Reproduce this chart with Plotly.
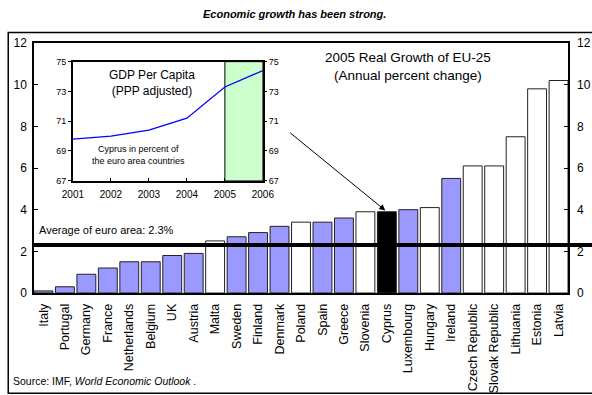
import plotly.graph_objects as go

# 2005 real GDP growth, EU-25 (annual percent change)
countries = ["Italy", "Portugal", "Germany", "France", "Netherlands", "Belgium", "UK",
             "Austria", "Malta", "Sweden", "Finland", "Denmark", "Poland", "Spain",
             "Greece", "Slovenia", "Cyprus", "Luxembourg", "Hungary", "Ireland",
             "Czech Republic", "Slovak Republic", "Lithuania", "Estonia", "Latvia"]
growth = [0.1, 0.3, 0.9, 1.2, 1.5, 1.5, 1.8, 1.9, 2.5, 2.7, 2.9, 3.2, 3.4, 3.4,
          3.6, 3.9, 3.9, 4.0, 4.1, 5.5, 6.1, 6.1, 7.5, 9.8, 10.2]
# "euro" = euro area / old members, "new" = 2004 accession states, "cyprus" highlighted
group = ["euro", "euro", "euro", "euro", "euro", "euro", "euro", "euro", "new", "euro",
         "euro", "euro", "new", "euro", "euro", "new", "cyprus", "euro", "new", "euro",
         "new", "new", "new", "new", "new"]
euro_avg = 2.3

# Cyprus GDP per capita (PPP) in percent of euro area
years = [2001, 2002, 2003, 2004, 2005, 2006]
gdp_pc = [69.8, 70.0, 70.4, 71.2, 73.3, 74.4]

W, H = 592, 395
L, R, T, B = 34, 573, 43, 293.5   # main plot area in pixels
PW, PH = R - L, B - T
BARGAP = 0.12


def px_x(x):
    return (x - L) / PW


def px_y(y):
    return (B - y) / PH


FONT = "Liberation Sans, Arial, sans-serif"
fill = {"euro": "#9999FF", "new": "#FFFFFF", "cyprus": "#000000"}
colors = [fill[g] for g in group]

fig = go.Figure()

fig.add_trace(go.Bar(
    x=countries, y=growth, marker=dict(color=colors, line=dict(color="#222222", width=1)),
    xaxis="x", yaxis="y", showlegend=False, hoverinfo="x+y"))
# invisible twin for the right-hand scale
fig.add_trace(go.Scatter(x=[countries[0]], y=[0], xaxis="x", yaxis="y3",
                         mode="markers", marker=dict(opacity=0), showlegend=False,
                         hoverinfo="skip"))

# inset line chart
fig.add_trace(go.Scatter(x=years, y=gdp_pc, xaxis="x2", yaxis="y2", mode="lines",
                         line=dict(color="#0000FF", width=1.3), showlegend=False))
fig.add_trace(go.Scatter(x=[years[0]], y=[gdp_pc[0]], xaxis="x2", yaxis="y4",
                         mode="markers", marker=dict(opacity=0), showlegend=False,
                         hoverinfo="skip"))

ix0, ix1 = px_x(73.3), px_x(265)
iy0, iy1 = px_y(181), px_y(61.7)

tickfont = dict(family=FONT, size=12, color="black")
inset_font = dict(family=FONT, size=9, color="black")
edge = BARGAP / 2 - 0.5

fig.update_layout(
    width=W, height=H,
    margin=dict(l=L, r=W - R, t=T, b=H - B, pad=0),
    paper_bgcolor="white", plot_bgcolor="white",
    bargap=BARGAP,
    font=dict(family=FONT, color="black"),
    xaxis=dict(domain=[0, 1], type="category", range=[edge, len(countries) - 1 - edge],
               tickangle=-90, tickfont=dict(family=FONT, size=12.5), ticklabelstandoff=4,
               showline=True, linecolor="black", linewidth=1.5, mirror=True, ticks="",
               showgrid=False, zeroline=False, fixedrange=True, automargin=False),
    yaxis=dict(domain=[0, 1], range=[0, 12], tickvals=[0, 2, 4, 6, 8, 10, 12],
               tickfont=tickfont, showline=True, linecolor="black", linewidth=1.5,
               mirror=True, ticks="inside", ticklen=4, tickcolor="black",
               ticklabelstandoff=3,
               showgrid=False, zeroline=False, automargin=False),
    yaxis3=dict(overlaying="y", side="right", range=[0, 12],
                tickvals=[0, 2, 4, 6, 8, 10, 12], tickfont=tickfont, showline=False,
                ticks="inside", ticklen=4, tickcolor="black", showgrid=False,
                ticklabelstandoff=8, zeroline=False, automargin=False),
    xaxis2=dict(domain=[ix0, ix1], anchor="y2", range=[2001, 2006],
                tickvals=years, tickfont=dict(family=FONT, size=10), ticklabelstandoff=4,
                showline=True, linecolor="black", linewidth=1.5, mirror=True,
                ticks="inside", ticklen=3, tickcolor="black", showgrid=False,
                zeroline=False),
    yaxis2=dict(domain=[iy0, iy1], anchor="x2", range=[67, 75], tickvals=[67, 69, 71, 73, 75],
                tickfont=inset_font, showline=True, linecolor="black", linewidth=1.5,
                mirror=True, ticks="outside", ticklen=3, tickcolor="black",
                showgrid=False, zeroline=False),
    yaxis4=dict(overlaying="y2", anchor="x2", side="right", range=[67, 75],
                tickvals=[67, 69, 71, 73, 75], tickfont=inset_font, showline=False,
                ticks="outside", ticklen=3, tickcolor="black", showgrid=False,
                zeroline=False),
)

shapes = [
    # inset background and forecast band
    dict(type="rect", xref="paper", yref="paper", x0=ix0, x1=ix1, y0=iy0, y1=iy1,
         fillcolor="white", line=dict(width=0), layer="below"),
    dict(type="rect", xref="x2", yref="y2", x0=2005, x1=2006, y0=67, y1=75,
         fillcolor="#CCFFCC", line=dict(color="black", width=1), layer="below"),
    # euro-area average, running out to the page edge
    dict(type="line", xref="paper", yref="y", x0=0, x1=px_x(600), y0=euro_avg, y1=euro_avg,
         line=dict(color="black", width=4)),
    # outer frame
    dict(type="rect", xref="paper", yref="paper", x0=px_x(8), x1=px_x(605),
         y0=px_y(394), y1=px_y(32.5), line=dict(color="black", width=1.5)),
]
fig.update_layout(shapes=shapes)

annotations = [
    dict(text="<b><i>Economic growth has been strong.</i></b>", xref="paper", yref="paper",
         x=px_x(297), y=px_y(14), showarrow=False, font=dict(family=FONT, size=11),
         xanchor="center", yanchor="middle"),
    dict(text="2005 Real Growth of EU-25<br>(Annual percent change)", xref="paper",
         yref="paper", x=px_x(412), y=px_y(66.5), showarrow=False,
         font=dict(family=FONT, size=13.5), xanchor="center", yanchor="middle"),
    dict(text="GDP Per Capita<br>(PPP adjusted)", xref="paper", yref="paper",
         x=px_x(153), y=px_y(83), showarrow=False, font=dict(family=FONT, size=12),
         xanchor="center", yanchor="middle"),
    dict(text="Cyprus in percent of<br>the euro area countries", xref="paper", yref="paper",
         x=px_x(139), y=px_y(155), showarrow=False, font=dict(family=FONT, size=9),
         xanchor="center", yanchor="middle"),
    dict(text="Average of euro area: " + f"{euro_avg}%", xref="paper", yref="paper",
         x=px_x(37), y=px_y(230.5), showarrow=False, font=dict(family=FONT, size=11),
         xanchor="left", yanchor="middle"),
    dict(text="Source: IMF, <i>World Economic Outlook</i> .", xref="paper", yref="paper",
         x=px_x(11), y=px_y(382), showarrow=False, font=dict(family=FONT, size=10.5),
         xanchor="left", yanchor="middle"),
    dict(text="", x="Cyprus", y=growth[countries.index("Cyprus")], xref="x", yref="y",
         showarrow=True, arrowhead=2, arrowsize=1.2, arrowwidth=1, arrowcolor="black",
         ax=-98, ay=-80, standoff=2),
]
fig.update_layout(annotations=annotations)

fig.write_html("out.html")
